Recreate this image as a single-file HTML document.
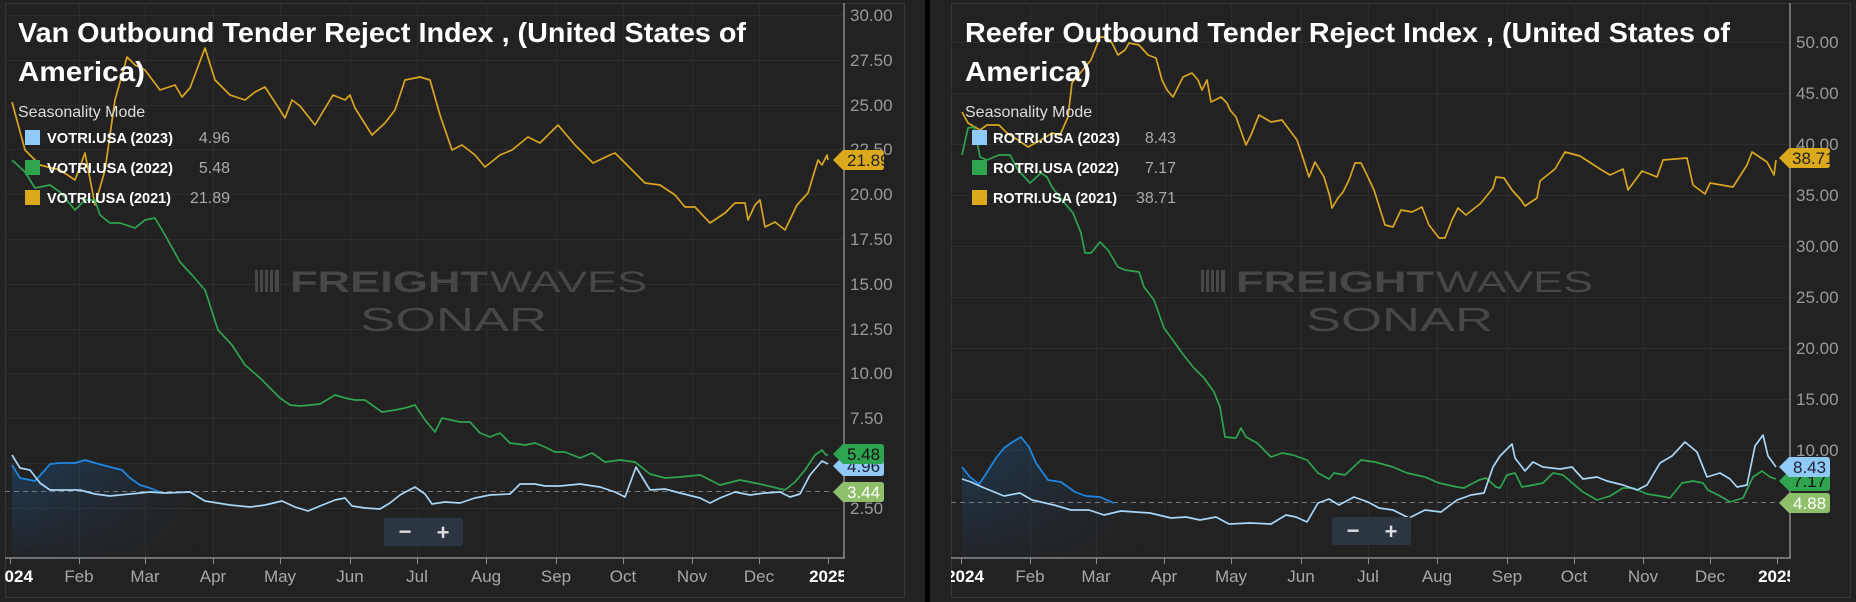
<!DOCTYPE html>
<html><head><meta charset="utf-8"><style>
html,body{margin:0;padding:0;background:#000;}
svg{display:block;font-family:"Liberation Sans",sans-serif;}
</style></head><body>
<svg width="1856" height="602" viewBox="0 0 1856 602" xmlns="http://www.w3.org/2000/svg">
<defs>
<linearGradient id="bf" x1="0" y1="0" x2="0" y2="1"><stop offset="0" stop-color="#1e6bb8" stop-opacity="0.35"/><stop offset="1" stop-color="#1e6bb8" stop-opacity="0.05"/></linearGradient>
<linearGradient id="bfh" x1="0" y1="0" x2="1" y2="0"><stop offset="0" stop-color="#fff" stop-opacity="1"/><stop offset="1" stop-color="#fff" stop-opacity="0"/></linearGradient>
<mask id="mL"><rect x="5" y="0" width="200" height="602" fill="url(#bfh)"/></mask>
<mask id="mR"><rect x="951" y="0" width="200" height="602" fill="url(#bfh)"/></mask>
<clipPath id="cL"><rect x="5" y="3" width="839" height="600"/></clipPath>
<clipPath id="cR"><rect x="951" y="3" width="839" height="600"/></clipPath>
</defs>
<rect x="0" y="0" width="925" height="602" fill="#222"/>
<rect x="930" y="0" width="926" height="602" fill="#222"/>
<rect x="5.5" y="3.5" width="899" height="594" fill="none" stroke="#363636"/>
<rect x="951.5" y="3.5" width="899" height="594" fill="none" stroke="#363636"/>

<g stroke="#2d2d2d" stroke-width="1">
<line x1="5" x2="844" y1="15.5" y2="15.5"/><line x1="5" x2="844" y1="60.5" y2="60.5"/><line x1="5" x2="844" y1="105.5" y2="105.5"/><line x1="5" x2="844" y1="149.5" y2="149.5"/><line x1="5" x2="844" y1="194.5" y2="194.5"/><line x1="5" x2="844" y1="239.5" y2="239.5"/><line x1="5" x2="844" y1="284.5" y2="284.5"/><line x1="5" x2="844" y1="329.5" y2="329.5"/><line x1="5" x2="844" y1="373.5" y2="373.5"/><line x1="5" x2="844" y1="418.5" y2="418.5"/><line x1="5" x2="844" y1="463.5" y2="463.5"/><line x1="5" x2="844" y1="508.5" y2="508.5"/>
<line x1="79.5" x2="79.5" y1="3" y2="558"/><line x1="145.5" x2="145.5" y1="3" y2="558"/><line x1="213.5" x2="213.5" y1="3" y2="558"/><line x1="280.5" x2="280.5" y1="3" y2="558"/><line x1="350.5" x2="350.5" y1="3" y2="558"/><line x1="417.5" x2="417.5" y1="3" y2="558"/><line x1="486.5" x2="486.5" y1="3" y2="558"/><line x1="556.5" x2="556.5" y1="3" y2="558"/><line x1="623.5" x2="623.5" y1="3" y2="558"/><line x1="692.5" x2="692.5" y1="3" y2="558"/><line x1="759.5" x2="759.5" y1="3" y2="558"/>
</g>
<g stroke="#2d2d2d" stroke-width="1">
<line x1="951" x2="1790" y1="42.5" y2="42.5"/><line x1="951" x2="1790" y1="93.5" y2="93.5"/><line x1="951" x2="1790" y1="144.5" y2="144.5"/><line x1="951" x2="1790" y1="195.5" y2="195.5"/><line x1="951" x2="1790" y1="246.5" y2="246.5"/><line x1="951" x2="1790" y1="297.5" y2="297.5"/><line x1="951" x2="1790" y1="348.5" y2="348.5"/><line x1="951" x2="1790" y1="399.5" y2="399.5"/><line x1="951" x2="1790" y1="450.5" y2="450.5"/>
<line x1="1030.5" x2="1030.5" y1="3" y2="558"/><line x1="1096.5" x2="1096.5" y1="3" y2="558"/><line x1="1164.5" x2="1164.5" y1="3" y2="558"/><line x1="1231.5" x2="1231.5" y1="3" y2="558"/><line x1="1301.5" x2="1301.5" y1="3" y2="558"/><line x1="1368.5" x2="1368.5" y1="3" y2="558"/><line x1="1437.5" x2="1437.5" y1="3" y2="558"/><line x1="1507.5" x2="1507.5" y1="3" y2="558"/><line x1="1574.5" x2="1574.5" y1="3" y2="558"/><line x1="1643.5" x2="1643.5" y1="3" y2="558"/><line x1="1710.5" x2="1710.5" y1="3" y2="558"/>
</g>

<g fill="#474747">
<g>
<rect x="255" y="270" width="3" height="22"/><rect x="260" y="270" width="3" height="22"/><rect x="265" y="270" width="3" height="22"/><rect x="270" y="270" width="3" height="22"/><rect x="275" y="270" width="4" height="22"/>
<text x="290" y="292" font-size="30" font-weight="bold" textLength="198" lengthAdjust="spacingAndGlyphs">FREIGHT</text>
<text x="490" y="292" font-size="30" textLength="157" lengthAdjust="spacingAndGlyphs">WAVES</text>
<text x="360" y="331" font-size="33" textLength="187" lengthAdjust="spacingAndGlyphs">SONAR</text>
</g>
<g transform="translate(946,0)">
<rect x="255" y="270" width="3" height="22"/><rect x="260" y="270" width="3" height="22"/><rect x="265" y="270" width="3" height="22"/><rect x="270" y="270" width="3" height="22"/><rect x="275" y="270" width="4" height="22"/>
<text x="290" y="292" font-size="30" font-weight="bold" textLength="198" lengthAdjust="spacingAndGlyphs">FREIGHT</text>
<text x="490" y="292" font-size="30" textLength="157" lengthAdjust="spacingAndGlyphs">WAVES</text>
<text x="360" y="331" font-size="33" textLength="187" lengthAdjust="spacingAndGlyphs">SONAR</text>
</g>
</g>

<g clip-path="url(#cL)" fill="none" stroke-width="1.7" stroke-linejoin="round">
<polygon mask="url(#mL)" fill="url(#bf)" stroke="none" points="12,465 20,478 35,481 45,470 50,464 60,463 75,463 85,460 95,463 110,467 122,470 130,478 140,485 150,488 160,492 200,492 200,558 12,558"/>
<line x1="5" x2="844" y1="491.5" y2="491.5" stroke="#777" stroke-width="1" stroke-dasharray="5,4"/>
<polyline stroke="#d9a521" points="12,102 25,150 40,165 60,170 75,180 85,153 95,205 105,170 115,100 127,57 135,65 145,70 160,90 175,85 182,97 190,88 205,48 215,80 230,95 245,100 255,92 265,87 280,110 285,118 292,100 300,106 315,125 333,95 345,100 350,95 355,108 372,135 385,123 395,110 405,80 420,77 430,80 440,115 452,150 462,145 475,155 485,167 500,155 512,150 528,137 540,143 558,125 575,145 593,163 610,155 615,153 630,168 645,183 660,185 675,195 685,207 695,207 710,223 725,213 735,203 745,203 748,220 755,205 760,200 765,227 775,222 785,230 797,205 808,193 818,160 822,165 827,155 828,160"/>
<polyline stroke="#2ea44f" points="12,160 25,172 35,188 50,185 60,192 75,210 85,200 95,200 100,215 110,223 120,223 135,228 145,220 155,218 165,235 180,262 192,275 205,290 218,330 232,345 245,365 260,378 272,390 280,398 290,405 300,406 320,404 335,395 345,398 355,400 365,400 382,412 395,410 405,408 415,405 425,420 435,432 442,418 460,422 470,422 480,433 490,437 500,433 510,443 525,445 535,443 545,447 555,452 565,452 580,458 592,453 605,462 620,460 635,462 650,474 665,478 680,477 700,475 720,485 740,480 760,484 785,490 795,482 805,470 815,455 822,450 826,455 828,455"/>
<polyline stroke="#1e88e5" points="12,465 20,478 35,481 45,470 50,464 60,463 75,463 85,460 95,463 110,467 122,470 130,478 140,485 150,488 160,492"/>
<polyline stroke="#a9d5f7" points="12,455 20,468 30,470 40,483 50,490 60,490 80,490 95,494 110,496 130,494 150,492 165,493 190,492 205,501 230,505 250,507 265,505 282,501 295,507 308,511 320,506 335,500 345,498 352,506 365,508 380,509 390,503 400,495 415,487 425,494 432,504 445,502 460,503 475,498 490,495 510,494 520,484 535,484 545,486 560,486 580,484 600,487 615,492 625,497 636,467 650,490 665,489 680,493 700,498 710,503 720,498 735,492 750,495 765,493 780,492 790,497 800,494 810,475 822,461 828,464"/>
</g>

<g clip-path="url(#cR)" fill="none" stroke-width="1.7" stroke-linejoin="round">
<polygon mask="url(#mR)" fill="url(#bf)" stroke="none" points="962,467 970,477 979,484 984,477 996,458 1004,448 1011,443 1021,437 1029,447 1036,463 1048,480 1061,482 1075,492 1086,496 1100,497 1114,503 1150,503 1150,558 962,558"/>
<line x1="951" x2="1790" y1="502.5" y2="502.5" stroke="#777" stroke-width="1" stroke-dasharray="5,4"/>
<polyline stroke="#d9a521" points="962,112 968,123 980,130 987,125 999,125 1007,133 1018,140 1028,147 1041,140 1052,133 1060,135 1068,117 1072,83 1091,60 1100,37 1106,37 1112,43 1118,55 1125,50 1129,43 1139,45 1148,55 1156,58 1162,80 1167,90 1173,97 1183,77 1192,73 1198,80 1202,90 1207,80 1211,102 1221,97 1227,103 1230,110 1236,117 1246,145 1251,135 1259,115 1271,122 1282,120 1288,128 1297,140 1303,158 1309,177 1315,162 1324,177 1330,197 1332,208 1338,198 1343,192 1349,180 1355,163 1361,163 1366,173 1374,190 1385,225 1393,227 1401,210 1412,212 1422,207 1429,225 1439,238 1445,238 1452,220 1458,208 1466,215 1481,203 1493,188 1496,177 1504,178 1512,190 1521,200 1525,206 1537,198 1540,181 1555,169 1565,152 1580,156 1600,169 1610,175 1623,169 1628,190 1642,171 1657,177 1663,160 1687,158 1693,185 1705,194 1710,183 1733,187 1747,165 1752,152 1767,162 1774,175 1776,160"/>
<polyline stroke="#2ea44f" points="962,155 968,128 974,127 980,157 987,160 999,155 1010,155 1018,170 1030,183 1041,173 1047,177 1052,187 1062,200 1073,213 1081,233 1085,253 1091,253 1100,242 1108,250 1118,267 1125,270 1139,272 1144,287 1154,300 1164,328 1175,343 1182,353 1193,367 1204,378 1214,392 1220,407 1225,437 1236,438 1241,428 1246,437 1257,443 1271,457 1282,453 1293,455 1307,460 1318,473 1329,479 1334,473 1345,475 1361,460 1375,462 1393,467 1407,473 1425,477 1439,483 1457,487 1464,488 1479,480 1486,478 1496,487 1500,488 1507,475 1515,473 1522,487 1533,485 1543,483 1553,473 1563,475 1570,481 1583,492 1597,500 1610,496 1623,488 1633,488 1647,494 1660,496 1670,498 1682,483 1693,481 1703,483 1708,490 1720,496 1730,502 1743,498 1753,477 1762,471 1770,477 1776,479"/>
<polyline stroke="#1e88e5" points="962,467 970,477 979,484 984,477 996,458 1004,448 1011,443 1021,437 1029,447 1036,463 1048,480 1061,482 1075,492 1086,496 1100,497 1114,503"/>
<polyline stroke="#a9d5f7" points="962,479 971,482 982,487 1004,496 1020,493 1032,500 1054,505 1071,510 1089,510 1104,515 1121,511 1150,513 1171,518 1186,517 1200,520 1216,517 1229,524 1250,523 1271,524 1286,515 1296,517 1307,522 1318,503 1329,499 1339,505 1354,497 1368,502 1379,508 1393,510 1409,518 1425,510 1441,512 1457,500 1471,495 1484,493 1493,467 1500,456 1512,444 1515,458 1525,471 1533,462 1543,467 1560,469 1572,467 1583,479 1597,477 1607,481 1623,485 1637,490 1647,485 1660,463 1672,456 1685,442 1697,452 1707,477 1720,473 1730,479 1737,487 1747,485 1755,446 1763,435 1768,456 1776,467"/>
</g>

<g stroke="#8a8a8a" stroke-width="1.5">
<line x1="5" x2="845" y1="558" y2="558"/><line x1="844" x2="844" y1="3" y2="558"/>
<line x1="951" x2="1791" y1="558" y2="558"/><line x1="1790" x2="1790" y1="3" y2="558"/>
</g>
<g stroke="#8a8a8a" stroke-width="1">
<line x1="10.5" x2="10.5" y1="558" y2="564"/><line x1="79.5" x2="79.5" y1="558" y2="564"/><line x1="145.5" x2="145.5" y1="558" y2="564"/><line x1="213.5" x2="213.5" y1="558" y2="564"/><line x1="280.5" x2="280.5" y1="558" y2="564"/><line x1="350.5" x2="350.5" y1="558" y2="564"/><line x1="417.5" x2="417.5" y1="558" y2="564"/><line x1="486.5" x2="486.5" y1="558" y2="564"/><line x1="556.5" x2="556.5" y1="558" y2="564"/><line x1="623.5" x2="623.5" y1="558" y2="564"/><line x1="692.5" x2="692.5" y1="558" y2="564"/><line x1="759.5" x2="759.5" y1="558" y2="564"/><line x1="828.5" x2="828.5" y1="558" y2="564"/>
<line x1="961.5" x2="961.5" y1="558" y2="564"/><line x1="1030.5" x2="1030.5" y1="558" y2="564"/><line x1="1096.5" x2="1096.5" y1="558" y2="564"/><line x1="1164.5" x2="1164.5" y1="558" y2="564"/><line x1="1231.5" x2="1231.5" y1="558" y2="564"/><line x1="1301.5" x2="1301.5" y1="558" y2="564"/><line x1="1368.5" x2="1368.5" y1="558" y2="564"/><line x1="1437.5" x2="1437.5" y1="558" y2="564"/><line x1="1507.5" x2="1507.5" y1="558" y2="564"/><line x1="1574.5" x2="1574.5" y1="558" y2="564"/><line x1="1643.5" x2="1643.5" y1="558" y2="564"/><line x1="1710.5" x2="1710.5" y1="558" y2="564"/><line x1="1777.5" x2="1777.5" y1="558" y2="564"/>
</g>

<g font-size="17" fill="#a8a8a8" text-anchor="middle">
<g clip-path="url(#cL)"><text x="14" y="582" fill="#fff" font-weight="bold">2024</text><text x="828" y="582" fill="#fff" font-weight="bold">2025</text></g>
<text x="79" y="582">Feb</text><text x="145" y="582">Mar</text><text x="213" y="582">Apr</text><text x="280" y="582">May</text><text x="350" y="582">Jun</text><text x="417" y="582">Jul</text><text x="486" y="582">Aug</text><text x="556" y="582">Sep</text><text x="623" y="582">Oct</text><text x="692" y="582">Nov</text><text x="759" y="582">Dec</text>
<g clip-path="url(#cR)"><text x="965" y="582" fill="#fff" font-weight="bold">2024</text><text x="1777" y="582" fill="#fff" font-weight="bold">2025</text></g>
<text x="1030" y="582">Feb</text><text x="1096" y="582">Mar</text><text x="1164" y="582">Apr</text><text x="1231" y="582">May</text><text x="1301" y="582">Jun</text><text x="1368" y="582">Jul</text><text x="1437" y="582">Aug</text><text x="1507" y="582">Sep</text><text x="1574" y="582">Oct</text><text x="1643" y="582">Nov</text><text x="1710" y="582">Dec</text>
</g>

<g font-size="17" fill="#9a9a9a">
<text x="850" y="21">30.00</text><text x="850" y="66">27.50</text><text x="850" y="111">25.00</text><text x="850" y="155">22.50</text><text x="850" y="200">20.00</text><text x="850" y="245">17.50</text><text x="850" y="290">15.00</text><text x="850" y="335">12.50</text><text x="850" y="379">10.00</text><text x="850" y="424">7.50</text><text x="850" y="514">2.50</text>
<text x="1796" y="48">50.00</text><text x="1796" y="99">45.00</text><text x="1796" y="150">40.00</text><text x="1796" y="201">35.00</text><text x="1796" y="252">30.00</text><text x="1796" y="303">25.00</text><text x="1796" y="354">20.00</text><text x="1796" y="405">15.00</text><text x="1796" y="456">10.00</text>
</g>

<g font-size="17">
<path d="M833,160 L843,150 H881 Q884,150 884,153 V167 Q884,170 881,170 H843 Z" fill="#dca81c"/><text x="847" y="166" fill="#222">21.89</text>
<path d="M833,466 L843,456 H881 Q884,456 884,459 V473 Q884,476 881,476 H843 Z" fill="#90caf9"/><text x="847" y="472" fill="#223">4.96</text>
<path d="M833,454 L843,444 H881 Q884,444 884,447 V461 Q884,464 881,464 H843 Z" fill="#2ea44f"/><text x="847" y="460" fill="#111">5.48</text>
<path d="M833,492 L843,482 H881 Q884,482 884,485 V499 Q884,502 881,502 H843 Z" fill="#8fbf6a"/><text x="847" y="498" fill="#fff">3.44</text>
<path d="M1779,158 L1789,148 H1827 Q1830,148 1830,151 V165 Q1830,168 1827,168 H1789 Z" fill="#dca81c"/><text x="1792" y="164" fill="#222">38.71</text>
<path d="M1779,481 L1789,471 H1827 Q1830,471 1830,474 V488 Q1830,491 1827,491 H1789 Z" fill="#2ea44f"/><text x="1793" y="487" fill="#111">7.17</text>
<path d="M1779,467 L1789,457 H1827 Q1830,457 1830,460 V474 Q1830,477 1827,477 H1789 Z" fill="#90caf9"/><text x="1793" y="473" fill="#223">8.43</text>
<path d="M1779,503 L1789,493 H1827 Q1830,493 1830,496 V510 Q1830,513 1827,513 H1789 Z" fill="#8fbf6a"/><text x="1793" y="509" fill="#fff">4.88</text>
</g>

<rect x="384" y="518" width="79" height="28" rx="2" fill="#2b3641"/>
<text x="405" y="539" font-size="22" font-weight="bold" fill="#ddd" text-anchor="middle">−</text><text x="443" y="540" font-size="22" font-weight="bold" fill="#ddd" text-anchor="middle">+</text>
<rect x="1332" y="517" width="79" height="28" rx="2" fill="#2b3641"/>
<text x="1353" y="538" font-size="22" font-weight="bold" fill="#ddd" text-anchor="middle">−</text><text x="1391" y="539" font-size="22" font-weight="bold" fill="#ddd" text-anchor="middle">+</text>

<g fill="#fff" font-weight="bold" font-size="28">
<text x="18" y="42" textLength="728" lengthAdjust="spacingAndGlyphs">Van Outbound Tender Reject Index , (United States of</text>
<text x="18" y="81" textLength="127" lengthAdjust="spacingAndGlyphs">America)</text>
<text x="965" y="42" textLength="765" lengthAdjust="spacingAndGlyphs">Reefer Outbound Tender Reject Index , (United States of</text>
<text x="965" y="81" textLength="126" lengthAdjust="spacingAndGlyphs">America)</text>
</g>

<g font-size="16">
<text x="18" y="117" fill="#ddd">Seasonality Mode</text>
<rect x="25" y="130" width="15" height="15" fill="#90caf9"/><rect x="25" y="160" width="15" height="15" fill="#2ea44f"/><rect x="25" y="190" width="15" height="15" fill="#dca81c"/>
<g font-weight="bold" fill="#fff" font-size="15"><text x="47" y="143" textLength="126" lengthAdjust="spacingAndGlyphs">VOTRI.USA (2023)</text><text x="47" y="173" textLength="126" lengthAdjust="spacingAndGlyphs">VOTRI.USA (2022)</text><text x="47" y="203" textLength="124" lengthAdjust="spacingAndGlyphs">VOTRI.USA (2021)</text></g>
<g fill="#aaa" text-anchor="end"><text x="230" y="143">4.96</text><text x="230" y="173">5.48</text><text x="230" y="203">21.89</text></g>

<text x="965" y="117" fill="#ddd">Seasonality Mode</text>
<rect x="972" y="130" width="15" height="15" fill="#90caf9"/><rect x="972" y="160" width="15" height="15" fill="#2ea44f"/><rect x="972" y="190" width="15" height="15" fill="#dca81c"/>
<g font-weight="bold" fill="#fff" font-size="15"><text x="993" y="143" textLength="127" lengthAdjust="spacingAndGlyphs">ROTRI.USA (2023)</text><text x="993" y="173" textLength="126" lengthAdjust="spacingAndGlyphs">ROTRI.USA (2022)</text><text x="993" y="203" textLength="124" lengthAdjust="spacingAndGlyphs">ROTRI.USA (2021)</text></g>
<g fill="#aaa" text-anchor="end"><text x="1176" y="143">8.43</text><text x="1176" y="173">7.17</text><text x="1176" y="203">38.71</text></g>
</g>
</svg>
</body></html>
